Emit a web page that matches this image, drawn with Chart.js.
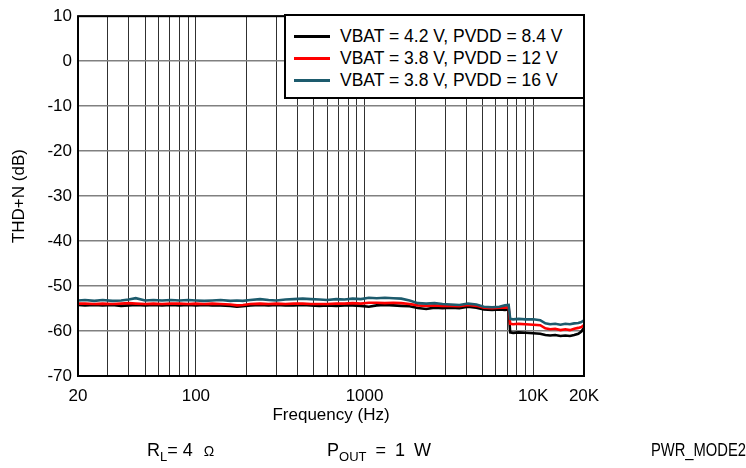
<!DOCTYPE html>
<html>
<head>
<meta charset="utf-8">
<script src="https://cdn.jsdelivr.net/npm/chart.js@4/dist/chart.umd.min.js"></script>
<style>
  html, body { margin: 0; padding: 0; background: #fff; }
  #wrap { position: relative; width: 746px; height: 468px; overflow: hidden; font-family: "Liberation Sans", Arial, Helvetica, sans-serif; color: #000; }
  #c { position: absolute; left: 0; top: 0; }
  #legend { position: absolute; left: 284px; top: 14px; width: 297px; height: 81px; border: 2px solid #000; background: #fff; }
  .row { position: absolute; left: 8px; height: 22px; display: flex; align-items: center; font-size: 17.5px; white-space: nowrap; }
  .sw { width: 36px; height: 3px; margin-right: 10px; }
  .note { position: absolute; top: 440px; font-size: 18px; white-space: nowrap; }
  .note sub { font-size: 13px; vertical-align: -5px; line-height: 0; }
  .om { font-size: 14px; margin-left: 6px; }
</style>
</head>
<body>
<div id="wrap">
  <canvas id="c" width="746" height="468"></canvas>
  <div id="legend"></div>
  <div class="note" style="left:147px;">R<sub>L</sub>= 4 <span class="om">Ω</span></div>
  <div class="note" style="left:327px; word-spacing:4px;">P<sub>OUT</sub> = 1 W</div>
  <div class="note" style="right:0px; transform:scaleX(0.82); transform-origin:right center;">PWR_MODE2</div>
</div>
<script>
// ---- data ----
const freqHz = [20, 22, 25, 28, 32, 36, 40, 44, 50, 56, 63, 71, 80, 90, 100, 112, 125, 140, 160, 175, 190, 210, 240, 270, 300, 340, 380, 430, 480, 540, 600, 680, 760, 850, 950, 1060, 1180, 1320, 1480, 1650, 1850, 2070, 2320, 2600, 2900, 3250, 3650, 4100, 4600, 5100, 5700, 6300, 6800, 7150, 7300, 7600, 8200, 9000, 10000, 11000, 11800, 12600, 13500, 14500, 15500, 16500, 17500, 18500, 19300, 20000];

const thdVbat42Pvdd84 = [-54.2, -54.3, -54.2, -54.3, -54.2, -54.4, -54.3, -54.2, -54.3, -54.2, -54.3, -54.2, -54.3, -54.2, -54.3, -54.2, -54.3, -54.3, -54.4, -54.6, -54.5, -54.3, -54.2, -54.3, -54.2, -54.3, -54.3, -54.2, -54.3, -54.4, -54.3, -54.4, -54.3, -54.3, -54.4, -54.6, -54.3, -54.2, -54.3, -54.4, -54.5, -54.9, -55.1, -54.8, -54.9, -54.8, -54.9, -54.6, -54.8, -55.2, -55.3, -55.2, -55.3, -55.2, -60.3, -60.4, -60.3, -60.4, -60.5, -60.6, -60.9, -61.0, -60.9, -61.1, -61.0, -61.1, -60.9, -60.6, -60.1, -59.3];

const thdVbat38Pvdd12 = [-53.9, -53.9, -54.0, -53.9, -54.0, -53.9, -53.8, -53.9, -54.0, -53.9, -54.0, -53.9, -53.9, -54.0, -53.9, -54.0, -53.9, -54.0, -54.1, -54.3, -54.2, -54.0, -53.9, -54.0, -53.9, -54.0, -53.9, -53.9, -54.0, -54.0, -54.0, -53.9, -53.9, -53.8, -53.9, -53.7, -53.7, -53.8, -53.7, -53.8, -54.0, -54.3, -54.4, -54.3, -54.4, -54.4, -54.5, -54.2, -54.4, -54.8, -54.9, -54.8, -54.8, -54.7, -58.4, -58.5, -58.4, -58.5, -58.6, -58.7, -59.4, -59.6, -59.5, -59.8, -59.6, -59.8, -59.5, -59.3, -59.1, -58.7];

const thdVbat38Pvdd16 = [-53.2, -53.1, -53.3, -53.1, -53.3, -53.2, -53.0, -52.7, -53.2, -53.1, -53.2, -53.1, -53.2, -53.1, -53.2, -53.3, -53.2, -53.1, -53.3, -53.2, -53.3, -53.1, -52.9, -53.1, -53.2, -53.0, -52.9, -52.8, -52.9, -53.0, -53.1, -52.9, -53.0, -52.8, -52.9, -52.6, -52.7, -52.6, -52.7, -52.8, -53.2, -53.8, -53.9, -53.8, -54.0, -54.1, -54.2, -53.9, -54.1, -54.6, -54.7, -54.6, -54.3, -54.2, -57.3, -57.4, -57.3, -57.4, -57.4, -57.6, -58.3, -58.5, -58.4, -58.6, -58.4, -58.5, -58.3, -58.2, -58.0, -57.6];

const seriesLabels = ['VBAT = 4.2 V, PVDD = 8.4 V', 'VBAT = 3.8 V, PVDD = 12 V', 'VBAT = 3.8 V, PVDD = 16 V'];
const seriesColors = ['#000000', '#ff0000', '#1d5b6d'];

const xGridValues = [20, 30, 40, 50, 60, 70, 80, 90, 100, 200, 300, 400, 500, 600, 700, 800, 900, 1000, 2000, 3000, 4000, 5000, 6000, 7000, 8000, 9000, 10000, 20000];
const xLabelValues = [20, 100, 1000, 10000, 20000];
const xLabelTexts = ['20', '100', '1000', '10K', '20K'];
const yMin = -70, yMax = 10, yStep = 10;

// ---- chart ----
const FONT = '"Liberation Sans", Arial, Helvetica, sans-serif';
const seriesValues = [thdVbat42Pvdd84, thdVbat38Pvdd12, thdVbat38Pvdd16];
const datasets = seriesValues.map((vals, i) => ({
  label: seriesLabels[i],
  data: freqHz.map((f, j) => ({ x: f, y: vals[j] })),
  borderColor: seriesColors[i],
  backgroundColor: seriesColors[i],
  borderWidth: 2.6,
  pointRadius: 0,
  tension: 0,
  order: 3 - i
}));

const frame = {
  id: 'frame',
  afterDatasetsDraw(chart) {
    const a = chart.chartArea, ctx = chart.ctx;
    ctx.save();
    ctx.strokeStyle = '#000';
    ctx.lineWidth = 2;
    ctx.strokeRect(a.left, a.top, a.right - a.left, a.bottom - a.top);
    ctx.restore();
  }
};

new Chart(document.getElementById('c'), {
  type: 'line',
  data: { datasets },
  plugins: [frame],
  options: {
    responsive: false,
    devicePixelRatio: 1,
    animation: false,
    layout: { padding: { left: 0, right: 162, top: 15, bottom: 40 } },
    plugins: { legend: { display: false }, tooltip: { enabled: false } },
    scales: {
      x: {
        type: 'logarithmic',
        min: 20, max: 20000,
        afterBuildTicks(scale) { scale.ticks = xGridValues.map(v => ({ value: v })); },
        afterFit(scale) { scale.height = 52; },
        ticks: {
          autoSkip: false, maxRotation: 0, minRotation: 0, padding: 10,
          color: '#000', font: { family: FONT, size: 17 },
          callback(value) {
            const k = xLabelValues.indexOf(Number(value));
            return k >= 0 ? xLabelTexts[k] : '';
          }
        },
        grid: { color: '#303030', lineWidth: 1, drawTicks: false },
        border: { display: false },
        title: { display: true, text: 'Frequency (Hz)', color: '#000', font: { family: FONT, size: 17 }, padding: { top: 0, bottom: 2 } }
      },
      y: {
        min: yMin, max: yMax,
        afterFit(scale) { scale.width = 78; },
        ticks: { stepSize: yStep, padding: 6, color: '#000', font: { family: FONT, size: 17 } },
        grid: { color: '#808080', lineWidth: 1.5, drawTicks: false },
        border: { display: false },
        title: { display: true, text: 'THD+N (dB)', color: '#000', font: { family: FONT, size: 17 }, padding: { top: 9, bottom: 0 } }
      }
    }
  }
});

// ---- HTML legend built from the series ----
const lg = document.getElementById('legend');
const rowTops = [9, 31, 53];
seriesLabels.forEach((t, i) => {
  const r = document.createElement('div');
  r.className = 'row';
  r.style.top = rowTops[i] + 'px';
  const s = document.createElement('div');
  s.className = 'sw';
  s.style.background = seriesColors[i];
  const tx = document.createElement('span');
  tx.textContent = t;
  r.appendChild(s); r.appendChild(tx);
  lg.appendChild(r);
});
</script>
</body>
</html>
